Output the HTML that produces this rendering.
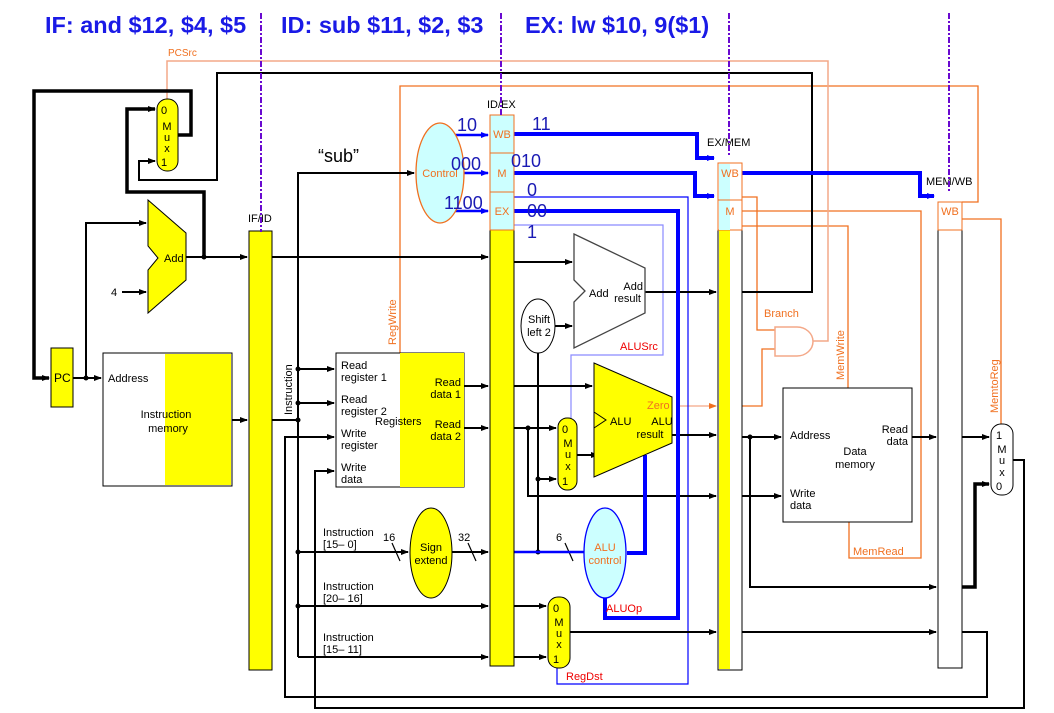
<!DOCTYPE html>
<html><head><meta charset="utf-8"><style>
html,body{margin:0;padding:0;background:#fff;}
svg{display:block;font-family:"Liberation Sans",sans-serif;}
</style></head><body>
<svg width="1054" height="713" viewBox="0 0 1054 713" xmlns="http://www.w3.org/2000/svg">
<defs>
<marker id="a" markerWidth="8" markerHeight="8" refX="7" refY="4" orient="auto" markerUnits="userSpaceOnUse"><path d="M0,1 L8,4 L0,7 z" fill="#000"/></marker>
<marker id="o" markerWidth="8" markerHeight="8" refX="7" refY="4" orient="auto" markerUnits="userSpaceOnUse"><path d="M0,1 L8,4 L0,7 z" fill="#f07020"/></marker>
<marker id="b" markerWidth="8" markerHeight="8" refX="7" refY="4" orient="auto" markerUnits="userSpaceOnUse"><path d="M0,1 L8,4 L0,7 z" fill="#00f"/></marker>
</defs>

<!-- titles -->
<g font-weight="bold" font-size="23.5" fill="#1a1ae6">
<text x="45" y="33">IF: and $12, $4, $5</text>
<text x="281" y="33">ID: sub $11, $2, $3</text>
<text x="525" y="33">EX: lw $10, 9($1)</text>
</g>

<!-- orange control lines -->
<g fill="none" stroke="#f07020" stroke-width="1.3">
<path d="M400,353 V86 H978 V202 H962"/>
<path d="M742,197 H757 V330 H775"/>
<path d="M742,406 H762 V349 H775"/>
<path d="M742,211 H921 V558 H849 V522"/>
<path d="M742,226 H848 V388"/>
<path d="M962,219 H1001 V425"/>
</g>
<path d="M167,99 V61 H828 V341 H812" fill="none" stroke="#f4a888" stroke-width="1.5"/>
<path d="M676,406 H716" stroke="#f4a888" stroke-width="1.3" marker-end="url(#o)"/>
<path d="M775,327 H797 A16,14.5 0 0 1 797,356 H775 Z" fill="#fff" stroke="#f4a888" stroke-width="1.5"/>

<!-- thin blue lines -->
<g fill="none" stroke-width="1.2">
<path d="M514,197 H688 V684 H557 V668" stroke="#00f"/>
<path d="M514,225 H663 V355 H571 V420" stroke="#8a8aff"/>
</g>

<!-- black wires -->
<g fill="none" stroke="#000" stroke-width="2">
<path d="M73,378 H101" marker-end="url(#a)"/>
<path d="M86,378 V223 H146" marker-end="url(#a)"/>
<path d="M122,292 H146" marker-end="url(#a)"/>
<path d="M186,257 H247" marker-end="url(#a)"/>
<path d="M139,171 V161 H155" marker-end="url(#a)"/>
<path d="M139,171 V180 H217 V73 H812 V292 H742"/>
<path d="M232,420 H247" marker-end="url(#a)"/>
<path d="M272,257 H488" marker-end="url(#a)"/>
<path d="M272,420 H298"/>
<path d="M298,657 V173 H414" marker-end="url(#a)"/>
<path d="M298,369 H334" marker-end="url(#a)"/>
<path d="M298,403 H334" marker-end="url(#a)"/>
<path d="M298,552 H408" marker-end="url(#a)"/>
<path d="M452,552 H488" marker-end="url(#a)"/>
<path d="M298,606 H488" marker-end="url(#a)"/>
<path d="M298,657 H488" marker-end="url(#a)"/>
<path d="M464,386 H488" marker-end="url(#a)"/>
<path d="M464,428 H488" marker-end="url(#a)"/>
<path d="M514,262 H572" marker-end="url(#a)"/>
<path d="M555,326 H572" marker-end="url(#a)"/>
<path d="M645,292 H716" marker-end="url(#a)"/>
<path d="M538,353 V552"/>
<path d="M538,479 H556" marker-end="url(#a)"/>
<path d="M514,386 H592" marker-end="url(#a)"/>
<path d="M514,428 H556" marker-end="url(#a)"/>
<path d="M528,428 V496 H716" marker-end="url(#a)"/>
<path d="M577,455 H598" marker-end="url(#a)"/>
<path d="M672,435 H716" marker-end="url(#a)"/>
<path d="M514,606 H546" marker-end="url(#a)"/>
<path d="M514,657 H546" marker-end="url(#a)"/>
<path d="M570,632 H716" marker-end="url(#a)"/>
<path d="M742,632 H936" marker-end="url(#a)"/>
<path d="M742,437 H781" marker-end="url(#a)"/>
<path d="M750,437 V587 H936" marker-end="url(#a)"/>
<path d="M742,496 H781" marker-end="url(#a)"/>
<path d="M912,437 H936" marker-end="url(#a)"/>
<path d="M962,437 H989" marker-end="url(#a)"/>
<path d="M962,632 H987 V697 H285 V437 H334" marker-end="url(#a)"/>
<path d="M1013,460 H1024 V708 H315 V471 H334" marker-end="url(#a)"/>
</g>
<g fill="none" stroke="#000" stroke-width="3.5">
<path d="M204,257 V192 H127 V109 H155" marker-end="url(#a)"/>
<path d="M178,135 H191 V91 H34 V378 H49" marker-end="url(#a)"/>
<path d="M962,587 H975 V484 H989" marker-end="url(#a)"/>
</g>
<g fill="#000">
<circle cx="86" cy="378" r="2.5"/><circle cx="204" cy="257" r="2.5"/>
<circle cx="298" cy="420" r="2.5"/><circle cx="298" cy="369" r="2.5"/><circle cx="298" cy="403" r="2.5"/>
<circle cx="298" cy="552" r="2.5"/><circle cx="298" cy="606" r="2.5"/>
<circle cx="538" cy="479" r="2.5"/><circle cx="538" cy="552" r="2.5"/><circle cx="528" cy="428" r="2.5"/>
<circle cx="750" cy="437" r="2.5"/>
</g>
<g stroke="#000" stroke-width="1.2"><path d="M392,543 L400,561"/><path d="M468,543 L476,561"/><path d="M565,543 L573,561"/></g>

<!-- thick blue -->
<g fill="none" stroke="#00f" stroke-width="4">
<path d="M514,134 H697 V158 H714" marker-end="url(#b)"/>
<path d="M514,173 H695 V196 H714" marker-end="url(#b)"/>
<path d="M514,211 H678 V618 H605 V598"/>
<path d="M627,553 H645 V455"/>
<path d="M742,173 H920 V196 H934" marker-end="url(#b)"/>
<path d="M514,552 H600" stroke-width="2.5" marker-end="url(#b)"/>
</g>
<g fill="none" stroke="#00f" stroke-width="2.5">
<path d="M455,135 H488" marker-end="url(#b)"/>
<path d="M460,173 H488" marker-end="url(#b)"/>
<path d="M455,211 H488" marker-end="url(#b)"/>
</g>

<!-- components -->
<rect x="51" y="348" width="22" height="59" fill="#ff0" stroke="#000"/>
<text x="54" y="382" font-size="12">PC</text>
<rect x="103" y="353" width="129" height="133" fill="#fff" stroke="#000"/>
<rect x="165" y="354" width="66" height="131" fill="#ff0"/>
<text x="108" y="382" font-size="11">Address</text>
<text x="166" y="418" font-size="11" text-anchor="middle">Instruction</text>
<text x="168" y="432" font-size="11" text-anchor="middle">memory</text>
<polygon points="148,200 186,233 186,280 148,313 148,270 158,258 148,246" fill="#ff0" stroke="#000"/>
<text x="164" y="262" font-size="11">Add</text>
<text x="111" y="296" font-size="11">4</text>
<rect x="157" y="99" width="21" height="72" rx="10" fill="#ff0" stroke="#000"/>
<g font-size="11" text-anchor="middle"><text x="164" y="114">0</text><text x="167" y="130">M</text><text x="167" y="141">u</text><text x="167" y="152">x</text><text x="164" y="166">1</text></g>
<text x="168" y="56" font-size="10" fill="#f07020">PCSrc</text>

<rect x="249" y="231" width="23" height="439" fill="#ff0" stroke="#000"/>
<text x="248" y="222" font-size="11">IF/ID</text>
<text font-size="11" transform="translate(292,415) rotate(-90)">Instruction</text>
<text x="318" y="162" font-size="18">“sub”</text>

<rect x="336" y="353" width="128" height="134" fill="#fff" stroke="#000"/>
<rect x="400" y="353" width="64" height="134" fill="#ff0"/>
<g font-size="11">
<text x="341" y="369">Read</text><text x="341" y="381">register 1</text>
<text x="341" y="403">Read</text><text x="341" y="415">register 2</text>
<text x="341" y="437">Write</text><text x="341" y="449">register</text>
<text x="341" y="471">Write</text><text x="341" y="483">data</text>
<text x="375" y="425">Registers</text>
<text x="461" y="386" text-anchor="end">Read</text><text x="461" y="398" text-anchor="end">data 1</text>
<text x="461" y="428" text-anchor="end">Read</text><text x="461" y="440" text-anchor="end">data 2</text>
<text x="323" y="536">Instruction</text><text x="323" y="548">[15– 0]</text>
<text x="323" y="590">Instruction</text><text x="323" y="602">[20– 16]</text>
<text x="323" y="641">Instruction</text><text x="323" y="653">[15– 11]</text>
<text x="383" y="541">16</text><text x="458" y="541">32</text><text x="556" y="541">6</text>
</g>
<text font-size="11" fill="#f07020" transform="translate(396,345) rotate(-90)">RegWrite</text>
<ellipse cx="431" cy="553" rx="21" ry="45" fill="#ff0" stroke="#000"/>
<text x="431" y="551" font-size="11" text-anchor="middle">Sign</text>
<text x="431" y="564" font-size="11" text-anchor="middle">extend</text>

<ellipse cx="440" cy="173" rx="24" ry="50" fill="#ccffff" stroke="#f07020" stroke-width="1.3"/>
<text x="440" y="177" font-size="11" text-anchor="middle" fill="#f07020">Control</text>

<!-- ID/EX -->
<rect x="490" y="230" width="24" height="436" fill="#ff0" stroke="#000"/>
<rect x="490" y="115" width="24" height="115" fill="#ccffff" stroke="#f07020"/>
<path d="M490,153 H514 M490,192 H514" stroke="#f07020"/>
<g font-size="11" fill="#f07020" text-anchor="middle"><text x="502" y="138">WB</text><text x="502" y="177">M</text><text x="502" y="215">EX</text></g>
<text x="487" y="108" font-size="11">ID/EX</text>
<g font-size="18" fill="#1a1ab4">
<text x="457" y="131">10</text><text x="451" y="170">000</text><text x="444" y="209">1100</text>
<text x="532" y="130">11</text><text x="511" y="167">010</text>
<text x="527" y="196">0</text><text x="527" y="217">00</text><text x="527" y="238">1</text>
</g>

<polygon points="574,234 645,268 645,313 574,348 574,302 585,291 574,280" fill="#fff" stroke="#444" stroke-width="1.3"/>
<text x="589" y="297" font-size="11">Add</text>
<text x="643" y="290" font-size="11" text-anchor="end">Add</text>
<text x="641" y="302" font-size="11" text-anchor="end">result</text>
<ellipse cx="538" cy="326" rx="17" ry="27" fill="#fff" stroke="#000"/>
<text x="539" y="323" font-size="11" text-anchor="middle">Shift</text>
<text x="539" y="336" font-size="11" text-anchor="middle">left 2</text>
<text x="620" y="350" font-size="11" fill="#e00">ALUSrc</text>

<polygon points="594,363 672,397 672,443 594,477 594,412 606,420 594,428" fill="#ff0" stroke="#000"/>
<text x="610" y="425" font-size="11">ALU</text>
<text x="662" y="425" font-size="11" text-anchor="middle">ALU</text>
<text x="650" y="438" font-size="11" text-anchor="middle">result</text>
<text x="647" y="409" font-size="11" fill="#f07020">Zero</text>
<rect x="558" y="418" width="19" height="72" rx="9" fill="#ff0" stroke="#000"/>
<g font-size="11" text-anchor="middle"><text x="565" y="433">0</text><text x="568" y="447">M</text><text x="568" y="458">u</text><text x="568" y="470">x</text><text x="565" y="485">1</text></g>
<ellipse cx="605" cy="553" rx="21" ry="45" fill="#ccffff" stroke="#00f" stroke-width="1.3"/>
<text x="605" y="551" font-size="11" text-anchor="middle" fill="#f07020">ALU</text>
<text x="605" y="564" font-size="11" text-anchor="middle" fill="#f07020">control</text>
<text x="606" y="612" font-size="11" fill="#e00">ALUOp</text>
<rect x="548" y="597" width="22" height="71" rx="10" fill="#ff0" stroke="#000"/>
<g font-size="11" text-anchor="middle"><text x="556" y="612">0</text><text x="559" y="626">M</text><text x="559" y="637">u</text><text x="559" y="648">x</text><text x="556" y="663">1</text></g>
<text x="566" y="680" font-size="11" fill="#e00">RegDst</text>

<!-- EX/MEM -->
<rect x="718" y="230" width="24" height="440" fill="#fff" stroke="#000"/>
<rect x="719" y="230" width="11" height="439" fill="#ff0"/>
<rect x="718" y="163" width="24" height="67" fill="#fff" stroke="#f07020"/>
<rect x="719" y="164" width="11" height="66" fill="#ccffff"/>
<path d="M718,200 H742" stroke="#f07020"/>
<g font-size="11" fill="#f07020" text-anchor="middle"><text x="730" y="177">WB</text><text x="730" y="215">M</text></g>
<text x="707" y="146" font-size="11">EX/MEM</text>
<text x="764" y="317" font-size="11" fill="#f07020">Branch</text>
<text font-size="11" fill="#f07020" transform="translate(844,380) rotate(-90)">MemWrite</text>

<rect x="783" y="388" width="129" height="134" fill="#fff" stroke="#000"/>
<g font-size="11">
<text x="790" y="439">Address</text>
<text x="855" y="455" text-anchor="middle">Data</text><text x="855" y="468" text-anchor="middle">memory</text>
<text x="908" y="433" text-anchor="end">Read</text><text x="908" y="445" text-anchor="end">data</text>
<text x="790" y="497">Write</text><text x="790" y="509">data</text>
</g>
<text x="853" y="555" font-size="11" fill="#f07020">MemRead</text>

<!-- MEM/WB -->
<rect x="938" y="230" width="24" height="438" fill="#fff" stroke="#000"/>
<rect x="938" y="202" width="24" height="28" fill="#fff" stroke="#f07020"/>
<text x="950" y="215" font-size="11" fill="#f07020" text-anchor="middle">WB</text>
<text x="926" y="185" font-size="11">MEM/WB</text>
<text font-size="11" fill="#f07020" transform="translate(998,413) rotate(-90)">MemtoReg</text>
<rect x="991" y="424" width="22" height="71" rx="10" fill="#fff" stroke="#000"/>
<g font-size="11" text-anchor="middle"><text x="999" y="439">1</text><text x="1002" y="453">M</text><text x="1002" y="464">u</text><text x="1002" y="476">x</text><text x="999" y="490">0</text></g>

<!-- stage separators -->
<g stroke="#6a0ad0" stroke-width="2" stroke-dasharray="6,2,2,2" fill="none">
<path d="M261,13 V232"/><path d="M501,13 V115"/><path d="M729,13 V155"/><path d="M949,13 V192"/>
</g>
</svg>
</body></html>
